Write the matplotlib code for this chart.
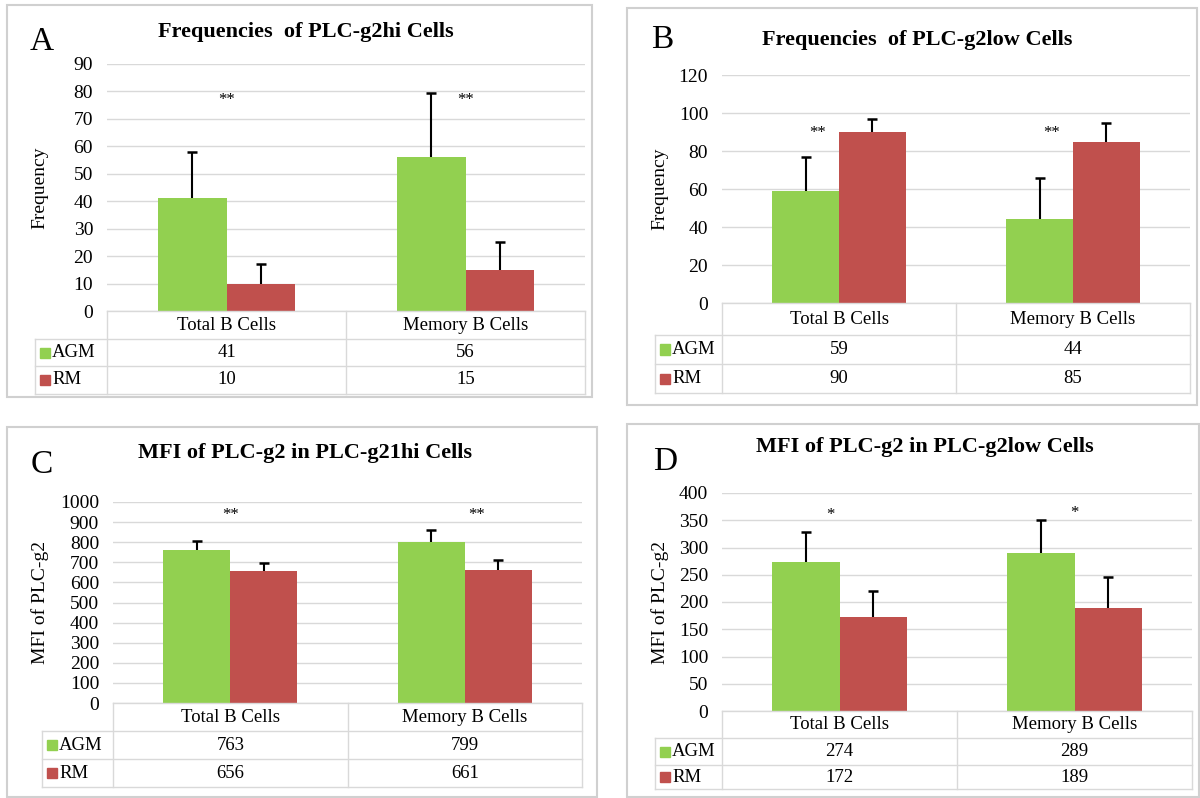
import numpy as np
import matplotlib
matplotlib.use('Agg')
import matplotlib.pyplot as plt
from matplotlib.lines import Line2D
from matplotlib.patches import Rectangle

# data for each panel
categories = ['Total B Cells', 'Memory B Cells']
groups = ['AGM', 'RM']

freq_hi_agm = [41, 56]
freq_hi_rm = [10, 15]
freq_hi_agm_err = [17, 23.5]
freq_hi_rm_err = [7, 10]

freq_low_agm = [59, 44]
freq_low_rm = [90, 85]
freq_low_agm_err = [18, 22]
freq_low_rm_err = [7, 10]

mfi_hi_agm = [763, 799]
mfi_hi_rm = [656, 661]
mfi_hi_agm_err = [42, 63]
mfi_hi_rm_err = [42, 49]

mfi_low_agm = [274, 289]
mfi_low_rm = [172, 189]
mfi_low_agm_err = [54, 61]
mfi_low_rm_err = [48, 57]

W, H = 1200, 798
GREEN = '#92D050'
RED = '#C0504D'
GRID = '#D9D9D9'
plt.rcParams['font.family'] = ['Liberation Serif', 'DejaVu Serif']

fig = plt.figure(figsize=(W / 100, H / 100), dpi=100)


def fx(x):
    return x / W


def fy(y):
    return 1 - y / H


def hline(x0, x1, y, color=GRID, lw=1.0):
    fig.add_artist(Line2D([fx(x0), fx(x1)], [fy(y), fy(y)], color=color, lw=lw,
                          transform=fig.transFigure))


def vline(x, y0, y1, color=GRID, lw=1.0):
    fig.add_artist(Line2D([fx(x), fx(x)], [fy(y0), fy(y1)], color=color, lw=lw,
                          transform=fig.transFigure))


def plus_err(ax, xs, vals, errs):
    # upper error bar only, with a cap on top
    tops = np.array(vals) + np.array(errs)
    ax.vlines(xs, vals, tops, colors='black', lw=1.5, zorder=3)
    ax.plot(xs, tops, ls='none', marker='_', ms=7, mew=1.8, color='black', zorder=3)


def panel(letter, title, ylabel, agm, rm, agm_err, rm_err, ymax, ystep, stars, star_y, star_dx,
          border, plot, rows, legend_left, letter_xy, title_xy, ylabel_x):
    # outer frame
    bx0, by0, bx1, by1 = border
    fig.add_artist(Rectangle((fx(bx0), fy(by1)), fx(bx1 - bx0), (by1 - by0) / H,
                             transform=fig.transFigure, fill=False, edgecolor='#D0D0D0', lw=1.5))

    px0, py0, px1, py1 = plot
    ax = fig.add_axes([fx(px0), fy(py1), fx(px1 - px0), (py1 - py0) / H])
    x = np.arange(len(categories))
    w = 1 / 3.5
    ax.bar(x - w / 2, agm, w, color=GREEN, zorder=2)
    ax.bar(x + w / 2, rm, w, color=RED, zorder=2)
    plus_err(ax, x - w / 2, agm, agm_err)
    plus_err(ax, x + w / 2, rm, rm_err)
    for i in range(len(categories)):
        ax.text(x[i] + star_dx[i], star_y[i], stars, ha='center', va='center', fontsize=12)

    ax.set_xlim(-0.5, len(categories) - 0.5)
    ax.set_ylim(0, ymax)
    ax.set_yticks(np.arange(0, ymax + 1, ystep))
    ax.set_xticks([])
    ax.tick_params(axis='y', length=0, labelsize=14, pad=10)
    ax.grid(axis='y', color=GRID, lw=1.0, zorder=0)
    for s in ax.spines.values():
        s.set_visible(False)

    # data table under the plot
    r0, r1, r2, r3 = rows
    hline(px0, px1, r0)
    for r in (r1, r2, r3):
        hline(legend_left, px1, r)
    vline(legend_left, r1, r3)
    vline(px0, r0, r3)
    mid = (px0 + px1) / 2
    vline(mid, r0, r3)
    vline(px1, r0, r3)
    cw = (px1 - px0) / 2
    for i, c in enumerate(categories):
        cx = px0 + cw * (i + 0.5)
        fig.text(fx(cx), fy((r0 + r1) / 2), c, ha='center', va='center', fontsize=13.5)
        fig.text(fx(cx), fy((r1 + r2) / 2), str(agm[i]), ha='center', va='center', fontsize=13.5)
        fig.text(fx(cx), fy((r2 + r3) / 2), str(rm[i]), ha='center', va='center', fontsize=13.5)
    for (ra, rb), g, col in zip([(r1, r2), (r2, r3)], groups, [GREEN, RED]):
        yc = (ra + rb) / 2
        fig.add_artist(Rectangle((fx(legend_left + 5), fy(yc + 5)), fx(10), 10 / H,
                                 transform=fig.transFigure, color=col))
        fig.text(fx(legend_left + 17), fy(yc), g, ha='left', va='center', fontsize=13.5)

    fig.text(fx(letter_xy[0]), fy(letter_xy[1]), letter, ha='center', va='center', fontsize=24)
    fig.text(fx(title_xy[0]), fy(title_xy[1]), title, ha='center', va='center',
             fontsize=16, fontweight='bold')
    fig.text(fx(ylabel_x), fy((py0 + py1) / 2), ylabel, ha='center', va='center',
             rotation=90, fontsize=14)


panel('A', 'Frequencies  of PLC-g2hi Cells', 'Frequency',
      freq_hi_agm, freq_hi_rm, freq_hi_agm_err, freq_hi_rm_err, 90, 10, '**', [77, 77], [0, 0],
      border=(7, 5, 592, 397), plot=(107, 64, 585, 311), rows=(311, 339, 366, 394),
      legend_left=35, letter_xy=(42, 42), title_xy=(306, 32), ylabel_x=40)

panel('B', 'Frequencies  of PLC-g2low Cells', 'Frequency',
      freq_low_agm, freq_low_rm, freq_low_agm_err, freq_low_rm_err, 120, 20, '**', [89.5, 89.5],
      [-0.09, -0.09],
      border=(627, 8, 1197, 405), plot=(722, 75, 1190, 303), rows=(303, 335, 364, 393),
      legend_left=655, letter_xy=(662, 40), title_xy=(917, 40), ylabel_x=660)

panel('C', 'MFI of PLC-g2 in PLC-g21hi Cells', 'MFI of PLC-g2',
      mfi_hi_agm, mfi_hi_rm, mfi_hi_agm_err, mfi_hi_rm_err, 1000, 100, '**', [935, 935], [0, 0.05],
      border=(7, 427, 597, 797), plot=(113, 502, 582, 703), rows=(703, 731, 759, 787),
      legend_left=42, letter_xy=(42, 465), title_xy=(305, 453), ylabel_x=40)

panel('D', 'MFI of PLC-g2 in PLC-g2low Cells', 'MFI of PLC-g2',
      mfi_low_agm, mfi_low_rm, mfi_low_agm_err, mfi_low_rm_err, 400, 50, '*', [360, 363],
      [-0.04, 0.0],
      border=(627, 424, 1199, 797), plot=(722, 493, 1192, 711), rows=(711, 738, 765, 789),
      legend_left=655, letter_xy=(665, 462), title_xy=(925, 447), ylabel_x=660)

fig.savefig('out.png', dpi=100)
